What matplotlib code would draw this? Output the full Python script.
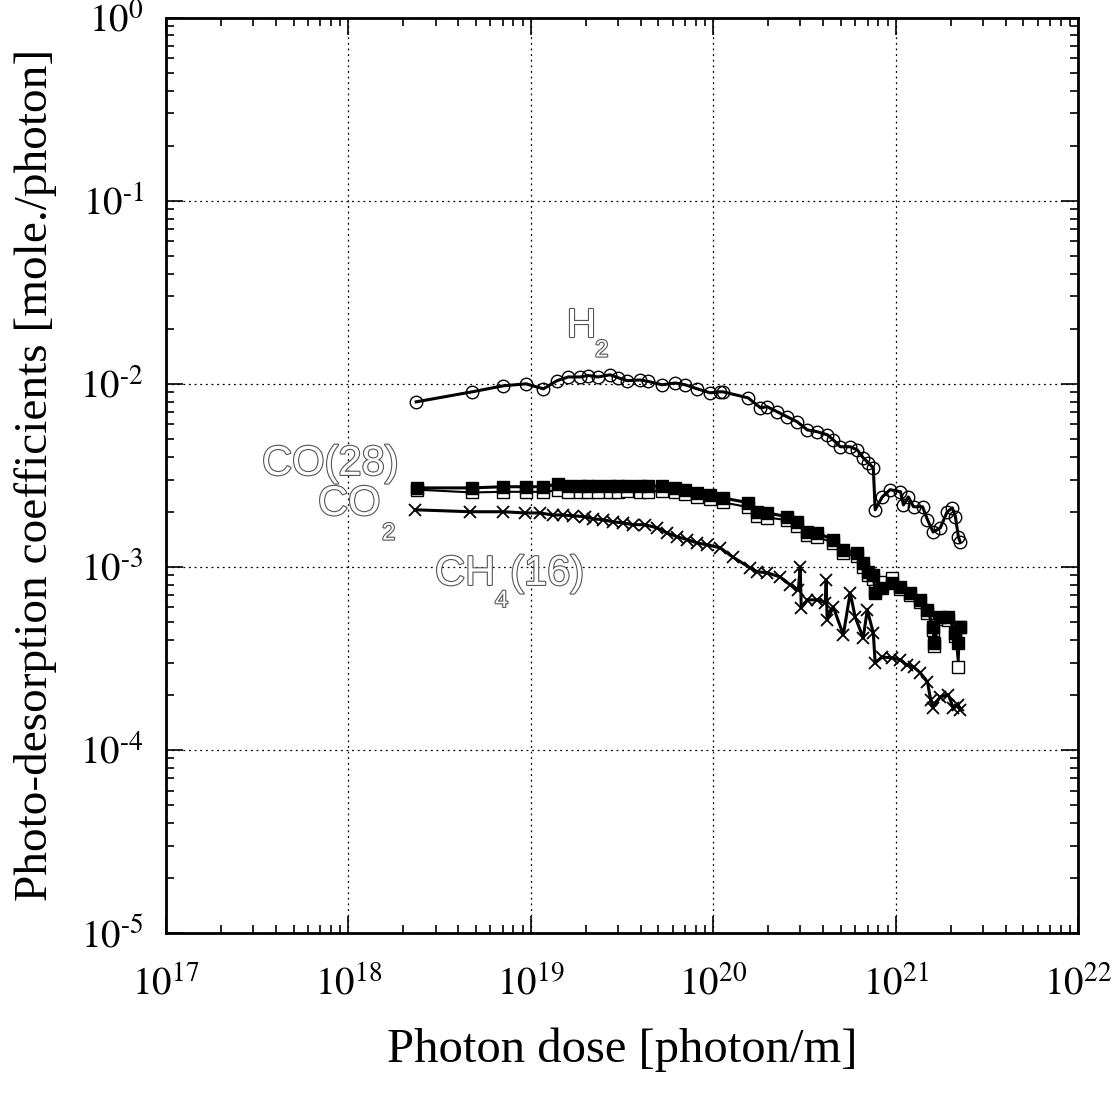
import numpy as np
import matplotlib.pyplot as plt
import matplotlib.patheffects as pe
from matplotlib.ticker import LogLocator, FuncFormatter, NullFormatter

plt.rcParams['font.family'] = ['Liberation Serif', 'DejaVu Serif']
plt.rcParams['mathtext.fontset'] = 'stix'

# H2 (open circles)
h2_x = [2.35e18, 4.76e18, 7.04e18, 9.4e18, 1.17e19, 1.39e19, 1.6e19, 1.86e19, 2.06e19, 2.33e19,
        2.72e19, 3.0e19, 3.37e19, 3.97e19, 4.4e19, 5.24e19, 6.18e19, 7.0e19, 8.15e19, 9.6e19,
        1.09e20, 1.13e20, 1.55e20, 1.81e20, 1.97e20, 2.24e20, 2.54e20, 2.88e20, 3.27e20, 3.71e20,
        4.2e20, 4.54e20, 4.96e20, 5.62e20, 6.14e20, 6.62e20, 7.06e20, 7.52e20, 7.7e20, 8.42e20,
        9.3e20, 1.06e21, 1.1e21, 1.17e21, 1.25e21, 1.4e21, 1.49e21, 1.6e21, 1.75e21, 1.91e21,
        2.04e21, 2.12e21, 2.2e21, 2.25e21]
h2_y = [7.97e-3, 9.04e-3, 9.75e-3, 1.0e-2, 9.39e-3, 1.04e-2, 1.09e-2, 1.09e-2, 1.11e-2, 1.09e-2,
        1.12e-2, 1.08e-2, 1.04e-2, 1.05e-2, 1.03e-2, 9.88e-3, 1.01e-2, 9.88e-3, 9.39e-3, 8.93e-3,
        9.04e-3, 9.04e-3, 8.38e-3, 7.4e-3, 7.5e-3, 7.03e-3, 6.6e-3, 6.2e-3, 5.6e-3, 5.47e-3,
        5.27e-3, 4.94e-3, 4.53e-3, 4.53e-3, 4.36e-3, 3.94e-3, 3.7e-3, 3.48e-3, 2.05e-3, 2.41e-3,
        2.64e-3, 2.57e-3, 2.18e-3, 2.41e-3, 2.13e-3, 2.13e-3, 1.81e-3, 1.55e-3, 1.63e-3, 2.0e-3,
        2.1e-3, 1.88e-3, 1.46e-3, 1.37e-3]

# CO(28) (filled squares)
co_x = [2.38e18, 4.76e18, 7.04e18, 9.4e18, 1.17e19, 1.41e19, 1.6e19, 1.86e19, 2.06e19, 2.33e19,
        2.72e19, 3.0e19, 3.37e19, 3.97e19, 4.4e19, 5.24e19, 6.18e19, 7.0e19, 8.15e19, 9.6e19,
        1.13e20, 1.55e20, 1.74e20, 1.97e20, 2.54e20, 2.88e20, 3.27e20, 3.71e20, 4.54e20, 5.15e20,
        6.14e20, 6.62e20, 7.06e20, 7.52e20, 7.7e20, 8.42e20, 9.55e20, 1.06e21, 1.19e21, 1.36e21,
        1.49e21, 1.6e21, 1.62e21, 1.75e21, 1.94e21, 2.12e21, 2.2e21, 2.25e21]
co_y = [2.70e-3, 2.70e-3, 2.74e-3, 2.74e-3, 2.74e-3, 2.84e-3, 2.77e-3, 2.77e-3, 2.77e-3, 2.77e-3,
        2.77e-3, 2.77e-3, 2.77e-3, 2.77e-3, 2.77e-3, 2.77e-3, 2.70e-3, 2.64e-3, 2.54e-3, 2.47e-3,
        2.38e-3, 2.24e-3, 2.0e-3, 1.97e-3, 1.88e-3, 1.76e-3, 1.55e-3, 1.53e-3, 1.41e-3, 1.24e-3,
        1.19e-3, 1.05e-3, 9.4e-4, 9.04e-4, 7.21e-4, 7.68e-4, 8.18e-4, 7.78e-4, 7.21e-4, 6.6e-4,
        5.82e-4, 4.7e-4, 3.84e-4, 5.33e-4, 5.33e-4, 4.36e-4, 3.84e-4, 4.7e-4]

# CO2 (open squares, mostly hidden behind CO)
co2_x = co_x
co2_y = [2.64e-3, 2.55e-3, 2.57e-3, 2.57e-3, 2.57e-3, 2.62e-3, 2.58e-3, 2.58e-3, 2.58e-3, 2.58e-3,
         2.58e-3, 2.58e-3, 2.60e-3, 2.58e-3, 2.58e-3, 2.60e-3, 2.55e-3, 2.50e-3, 2.42e-3, 2.34e-3,
         2.25e-3, 2.12e-3, 1.9e-3, 1.86e-3, 1.8e-3, 1.68e-3, 1.49e-3, 1.46e-3, 1.35e-3, 1.19e-3,
         1.14e-3, 1.0e-3, 9.0e-4, 8.6e-4, 7.4e-4, 8.3e-4, 8.7e-4, 7.6e-4, 7.0e-4, 6.4e-4,
         5.6e-4, 4.5e-4, 3.7e-4, 5.2e-4, 5.1e-4, 4.2e-4, 2.84e-4, 4.7e-4]

# CH4(16) (crosses)
ch4_x = [2.32e18, 4.64e18, 7.04e18, 9.29e18, 1.12e19, 1.32e19, 1.5e19, 1.7e19, 1.98e19, 2.19e19,
         2.49e19, 2.82e19, 3.2e19, 3.63e19, 4.23e19, 4.92e19, 5.58e19, 6.33e19, 7.18e19, 8.15e19,
         9.25e19, 1.09e20, 1.28e20, 1.59e20, 1.74e20, 1.97e20, 2.32e20, 2.64e20, 2.92e20, 2.99e20,
         3.03e20, 3.27e20, 3.71e20, 4.1e20, 4.15e20, 4.2e20, 4.54e20, 5.15e20, 5.62e20, 5.98e20,
         6.62e20, 6.97e20, 7.52e20, 7.7e20, 8.42e20, 9.55e20, 1.06e21, 1.15e21, 1.25e21, 1.36e21,
         1.49e21, 1.55e21, 1.6e21, 1.75e21, 1.94e21, 2.06e21, 2.2e21, 2.25e21]
ch4_y = [2.05e-3, 2.0e-3, 2.0e-3, 1.97e-3, 1.97e-3, 1.92e-3, 1.92e-3, 1.90e-3, 1.88e-3, 1.83e-3,
         1.81e-3, 1.76e-3, 1.74e-3, 1.70e-3, 1.70e-3, 1.63e-3, 1.53e-3, 1.46e-3, 1.41e-3, 1.35e-3,
         1.32e-3, 1.27e-3, 1.13e-3, 9.88e-4, 9.4e-4, 9.28e-4, 8.81e-4, 7.97e-4, 7.48e-4, 1.0e-3,
         5.97e-4, 6.6e-4, 6.6e-4, 6.36e-4, 8.49e-4, 5.13e-4, 6.04e-4, 4.25e-4, 7.21e-4, 5.33e-4,
         4.09e-4, 5.82e-4, 4.36e-4, 2.99e-4, 3.22e-4, 3.18e-4, 3.10e-4, 2.91e-4, 2.84e-4, 2.64e-4,
         2.35e-4, 1.88e-4, 1.70e-4, 1.95e-4, 2.0e-4, 1.70e-4, 1.76e-4, 1.66e-4]

# curve labels: (text, x, y, fontsize)
labels = [
    ('H', 1.58e19, 1.81e-2, 29), ('2', 2.25e19, 1.41e-2, 17),
    ('CO(28)', 3.36e17, 3.18e-3, 30),
    ('CO', 6.81e17, 1.92e-3, 30), ('2', 1.53e18, 1.41e-3, 17),
    ('CH', 2.98e18, 7.97e-4, 30), ('4', 6.36e18, 6.04e-4, 17), ('(16)', 7.69e18, 7.97e-4, 30),
]

fig = plt.figure(figsize=(11.14, 11.08), dpi=100)
ax = fig.add_axes([0.149, 0.158, 0.819, 0.826])

ax.plot(co2_x, co2_y, '-s', color='black', mfc='white', mec='black', ms=8.5, mew=1.0, lw=1.5, zorder=3)
ax.plot(co_x, co_y, '-s', color='black', mfc='black', mec='black', ms=9, lw=2.2, zorder=4)
ax.plot(ch4_x, ch4_y, '-x', color='black', ms=9, mew=1.3, lw=2.2, zorder=5)
ax.plot(h2_x, h2_y, '-o', color='black', mfc='none', mec='black', ms=9, mew=1.0, lw=2.2, zorder=5)

ax.set_xscale('log')
ax.set_yscale('log')
ax.set_xlim(1e17, 1e22)
ax.set_ylim(1e-5, 1e0)


def pow10(v, pos):
    e = int(round(np.log10(v)))
    s = str(e).replace('-', '\u2010')
    return '$10^{%s}$' % s


for axis in (ax.xaxis, ax.yaxis):
    axis.set_major_locator(LogLocator(base=10, numticks=20))
    axis.set_minor_locator(LogLocator(base=10, subs=np.arange(2, 10), numticks=20))
    axis.set_major_formatter(FuncFormatter(pow10))
    axis.set_minor_formatter(NullFormatter())

ax.tick_params(which='both', direction='in', top=True, right=True, labelsize=28, width=1.2)
ax.tick_params(which='major', length=12)
ax.tick_params(axis='x', which='major', pad=24)
ax.tick_params(axis='y', which='major', pad=16)
ax.tick_params(which='minor', length=6)
ax.grid(True, which='major', linestyle=(0, (1.5, 3)), color='black', linewidth=0.9)
for s in ax.spines.values():
    s.set_linewidth(2)

ax.set_xlabel('Photon dose [photon/m]', fontsize=35, va='center')
ax.set_ylabel('Photo-desorption coefficients [mole./photon]', fontsize=34, va='center')
ax.xaxis.set_label_coords(0.5, -0.128)
ax.yaxis.set_label_coords(-0.143, 0.5)

hollow = [pe.Stroke(linewidth=1.6, foreground='#555555'), pe.Normal()]
for txt, lx, ly, fs in labels:
    ax.text(lx, ly, txt, color='white', family=['Liberation Sans', 'DejaVu Sans'], fontsize=fs,
            ha='left', va='baseline', path_effects=hollow, zorder=6)

fig.savefig('out.png', dpi=100)
